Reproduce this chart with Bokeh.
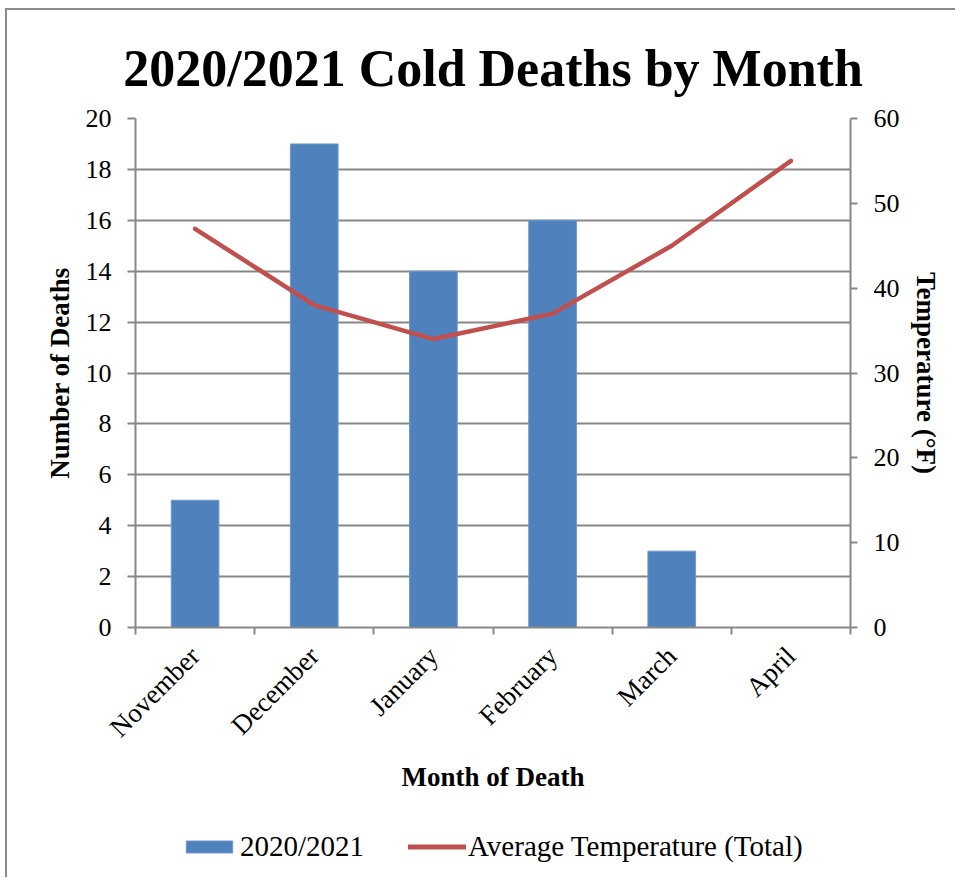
import math
from bokeh.plotting import figure
from bokeh.layouts import column
from bokeh.models import (Range1d, LinearAxis, FixedTicker, Legend, LegendItem,
                          ColumnDataSource, Grid)
from bokeh.embed import file_html
from bokeh.resources import INLINE

months = ["November", "December", "January", "February", "March", "April"]
deaths = [5, 19, 14, 16, 3, 0]
avg_temp = [47, 38, 34, 37, 45, 55]
left_ticks = [0, 2, 4, 6, 8, 10, 12, 14, 16, 18, 20]
right_ticks = [0, 10, 20, 30, 40, 50, 60]
series_names = ["2020/2021", "Average Temperature (Total)"]

FONT = "Liberation Serif"
GRAY = "#878787"
BLUE = "#4F81BD"
RED = "#C0504D"

xc = [i + 0.5 for i in range(len(months))]
bar_src = ColumnDataSource(dict(x=xc, top=deaths))
line_src = ColumnDataSource(dict(x=xc, y=avg_temp))

p = figure(frame_width=715, frame_height=509, output_backend="svg", toolbar_location=None,
           x_range=Range1d(0, len(months)), y_range=Range1d(0, 20),
           min_border_left=128, min_border_right=105, min_border_top=108,
           min_border_bottom=200, x_axis_type=None, y_axis_type=None)
p.outline_line_color = None
p.extra_y_ranges = {"temp": Range1d(0, 60)}

p.title.text = "2020/2021 Cold Deaths by Month"
p.title.align = "center"
p.title.text_font = FONT
p.title.text_font_style = "bold"
p.title.text_font_size = "52px"
p.title.text_color = "black"
p.title.standoff = 44

ly = LinearAxis(ticker=FixedTicker(ticks=left_ticks, minor_ticks=[]),
                axis_label="Number of Deaths")
ry = LinearAxis(y_range_name="temp", ticker=FixedTicker(ticks=right_ticks, minor_ticks=[]),
                axis_label="Temperature (°F)")
bx = LinearAxis(ticker=FixedTicker(ticks=xc, minor_ticks=list(range(len(months) + 1))),
                axis_label="Month of Death",
                major_label_overrides={v: m for v, m in zip(xc, months)})

for ax in (ly, ry, bx):
    ax.axis_line_color = GRAY
    ax.axis_line_width = 2
    ax.major_tick_line_color = GRAY
    ax.major_tick_line_width = 2
    ax.minor_tick_line_color = GRAY
    ax.minor_tick_line_width = 2
    ax.major_tick_in = 0
    ax.minor_tick_in = 0
    ax.major_label_text_font = FONT
    ax.major_label_text_font_size = "26px"
    ax.major_label_text_color = "black"
    ax.axis_label_text_font = FONT
    ax.axis_label_text_font_style = "bold"
    ax.axis_label_text_font_size = "27px"
    ax.axis_label_text_color = "black"

ly.major_tick_out = 8
ly.major_label_standoff = 16
ly.axis_label_standoff = 8
ry.major_tick_out = 7
ry.major_label_standoff = 16
ry.axis_label_standoff = 8
bx.major_tick_out = 0
bx.minor_tick_out = 7
bx.major_label_orientation = math.pi / 4
bx.major_label_text_font_size = "27px"
bx.major_label_standoff = 17
bx.axis_label_standoff = 6

p.add_layout(ly, "left")
p.add_layout(ry, "right")
p.add_layout(bx, "below")

g = Grid(dimension=1, ticker=ly.ticker, grid_line_color=GRAY, grid_line_width=2)
p.add_layout(g)

p.vbar(x="x", top="top", width=0.4, source=bar_src, fill_color=BLUE,
       line_color="#6E98CC", line_width=1)
p.line(x="x", y="y", source=line_src, y_range_name="temp",
       line_color=RED, line_width=4.5, line_cap="round")

# Legend strip (separate figure so the legend is not clipped); its frame is
# aligned with the main frame by the column layout.
q = figure(width=948, height=50, output_backend="svg", toolbar_location=None,
           x_range=Range1d(0, 1), y_range=Range1d(0, 1), min_border=0,
           x_axis_type=None, y_axis_type=None)
q.outline_line_color = None
q.xgrid.visible = False
q.ygrid.visible = False
# proxy renderers with no drawable data: only their legend swatches show
nan = float("nan")
lb = q.vbar(x=[nan], top=[nan], width=0.4, fill_color=BLUE, line_color="#6E98CC", line_width=1)
ll = q.line(x=[nan, nan], y=[nan, nan], line_color=RED, line_width=5, line_cap="round")
legend = Legend(items=[LegendItem(label=series_names[0], renderers=[lb]),
                       LegendItem(label=series_names[1], renderers=[ll])],
                orientation="horizontal", location=(45, 14),
                label_text_font=FONT, label_text_font_size="29px",
                label_text_color="black", glyph_width=58, glyph_height=15,
                label_standoff=2, spacing=44, padding=0, margin=0,
                border_line_color=None, background_fill_color=None)
q.add_layout(legend)

layout = column(p, q, spacing=0,
                styles={"border-top": "2px solid #8a8a8a", "border-left": "2px solid #8a8a8a",
                        "margin-left": "5px", "margin-top": "8px"})

open("out.html", "w").write(file_html(layout, INLINE))
